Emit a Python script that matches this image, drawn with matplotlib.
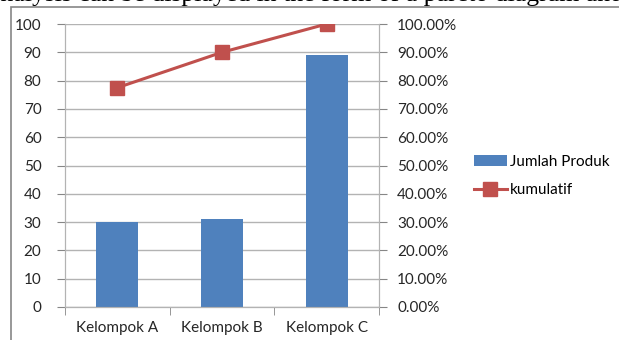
import matplotlib.pyplot as plt
from matplotlib.patches import Rectangle
from matplotlib.ticker import FuncFormatter

# data
kelompok = ['Kelompok A', 'Kelompok B', 'Kelompok C']
jumlah_produk = [30, 31, 89]
kumulatif = [77.5, 90.0, 100.0]

W, H = 619, 340
fig = plt.figure(figsize=(W / 100, H / 100), dpi=100)
plt.rcParams['font.family'] = ['Lato', 'DejaVu Sans']

# piece of the document line above the chart (cut off at the top)
fig.text(-11 / W, 1 - 1 / H, 'analysis can be displayed in the form of a pareto diagram and',
         family='Liberation Serif', fontsize=18.5, va='baseline', ha='left', color='black')

# chart frame
fig.patches.append(Rectangle((11 / W, -0.1), 1.2, 1 - 7 / H + 0.1, transform=fig.transFigure,
                             fill=False, edgecolor='#868686', linewidth=1.2))

# plot area (pixel box: x 65..379, y 24..307)
ax = fig.add_axes([65 / W, 1 - 307 / H, (379 - 65) / W, (307 - 24) / H])
ax2 = ax.twinx()

x = range(len(kelompok))
bars = ax.bar(x, jumlah_produk, width=0.4, color='#4f81bd', label='Jumlah Produk', zorder=2)
line, = ax2.plot(x, kumulatif, color='#c0504d', linewidth=2.2, marker='s', markersize=10,
                 label='kumulatif', zorder=3)

ax.set_xlim(-0.5, 2.5)
ax.set_ylim(0, 100)
ax.set_yticks(range(0, 101, 10))
ax2.set_ylim(0, 100)
ax2.set_yticks(range(0, 101, 10))
ax2.yaxis.set_major_formatter(FuncFormatter(lambda v, p: '%.2f%%' % v))

ax.set_xticks(x)
ax.set_xticklabels(kelompok)
ax.set_xticks([-0.5, 0.5, 1.5, 2.5], minor=True)
ax.tick_params(axis='x', which='major', length=0, pad=10, labelsize=11, colors='#262626')
ax.tick_params(axis='x', which='minor', length=6, color='#868686', direction='out')
ax.tick_params(axis='y', length=6, color='#868686', labelsize=11, labelcolor='#262626', pad=11)
ax2.tick_params(axis='y', length=6, color='#868686', labelsize=11, labelcolor='#262626', pad=7)

ax.grid(axis='y', color='#b3b3b3', linewidth=1, zorder=0)
ax.set_axisbelow(True)
for a in (ax, ax2):
    a.spines['top'].set_visible(False)
    for s in ('left', 'right', 'bottom'):
        a.spines[s].set_color('#b3b3b3')
ax.spines['bottom'].set_color('#868686')

ax.set_zorder(ax2.get_zorder() - 1)
ax.patch.set_visible(False)
ax2.patch.set_visible(False)

fig.legend([bars, line], ['Jumlah Produk', 'kumulatif'], loc='center left',
           bbox_to_anchor=(466 / W, 1 - 176 / H), frameon=False, fontsize=11,
           handlelength=2.2, handletextpad=0.2, labelspacing=0.95, borderpad=0)

fig.savefig('out.png', dpi=100)
